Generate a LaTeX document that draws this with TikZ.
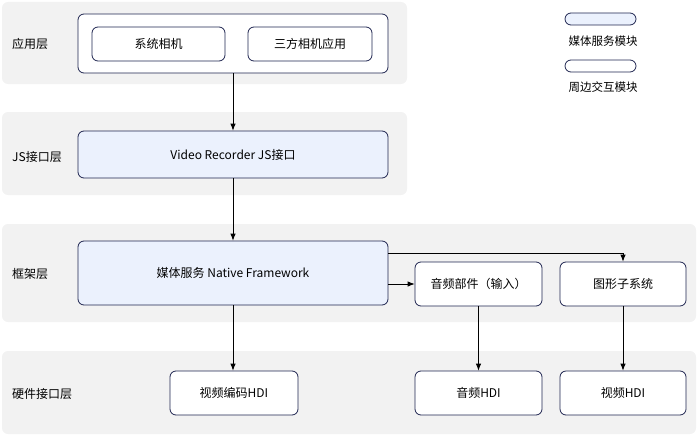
\documentclass[tikz,border=0pt]{standalone}
\usepackage{fontspec}
\setmainfont{Noto Sans CJK SC}
\usetikzlibrary{arrows.meta}
\definecolor{band}{HTML}{F2F2F2}
\definecolor{edge}{HTML}{1F2550}
\definecolor{blue}{HTML}{EBF1FD}
\tikzset{
  bandbox/.style={fill=band, draw=none, rounded corners=6pt},
  modbox/.style={draw=edge, line width=0.8pt, rounded corners=6pt, fill=white, inner sep=0pt, font=\fontsize{12}{14}\selectfont},
  bluebox/.style={modbox, fill=blue},
  lbl/.style={font=\fontsize{12}{14}\selectfont, anchor=west, inner sep=0pt},
  conn/.style={line width=0.8pt, black},
  arr/.style={conn, -{Latex[length=7pt,width=5.5pt]}},
}
\begin{document}
\begin{tikzpicture}[x=1pt,y=-1pt]
\useasboundingbox (0,0) rectangle (698,436);
% bands
\fill[bandbox] (2,2) rectangle (407,84);
\fill[bandbox] (2,112) rectangle (407,195);
\fill[bandbox] (2,224) rectangle (696,322);
\fill[bandbox] (2,351) rectangle (696,434);
% layer labels
\node[lbl] (l1) at (12,44) {应用层};
\node[lbl] (l2) at (12,157) {JS接口层};
\node[lbl] (l3) at (12,274) {框架层};
\node[lbl] (l4) at (12,394) {硬件接口层};
% app
\node[modbox, minimum width=310pt, minimum height=59pt] (app) at (233,43.5) {};
\node[modbox, minimum width=133pt, minimum height=34pt] (sys) at (158.5,44) {系统相机};
\node[modbox, minimum width=124pt, minimum height=34pt] (third) at (310,44) {三方相机应用};
% js
\node[bluebox, minimum width=310pt, minimum height=47pt] (js) at (233,154.5) {Video Recorder JS接口};
% framework
\node[bluebox, minimum width=310pt, minimum height=64pt] (fw) at (233,273) {媒体服务 Native Framework};
\node[modbox, minimum width=127pt, minimum height=44pt] (audio) at (478.5,284) {音频部件（输入）};
\node[modbox, minimum width=126pt, minimum height=44pt] (gfx) at (623,284) {图形子系统};
% hdi
\node[modbox, minimum width=128pt, minimum height=44pt] (venc) at (234,393) {视频编码HDI};
\node[modbox, minimum width=127pt, minimum height=44pt] (ahdi) at (478.5,393) {音频HDI};
\node[modbox, minimum width=126pt, minimum height=44pt] (vhdi) at (623,393) {视频HDI};
% legend
\node[bluebox, minimum width=71pt, minimum height=12pt] (lg1) at (600.5,19) {};
\node[lbl, anchor=center, font=\fontsize{11.5}{13}\selectfont] (lg1t) at (603,41) {媒体服务模块};
\node[modbox, minimum width=71pt, minimum height=12pt] (lg2) at (600.5,66) {};
\node[lbl, anchor=center, font=\fontsize{11.5}{13}\selectfont] (lg2t) at (603,87) {周边交互模块};
% connectors
\draw[arr] (app.south) -- (js.north);
\draw[arr] (js.south) -- (fw.north);
\draw[arr] (fw.south) -- (venc.north -| fw.south);
\draw[arr] (fw.east |- audio.west) -- (audio.west);
\draw[arr] (fw.east |- 0,253) -| (gfx.north);
\draw[arr] (audio.south) -- (ahdi.north);
\draw[arr] (gfx.south) -- (vhdi.north);
\end{tikzpicture}
\end{document}
